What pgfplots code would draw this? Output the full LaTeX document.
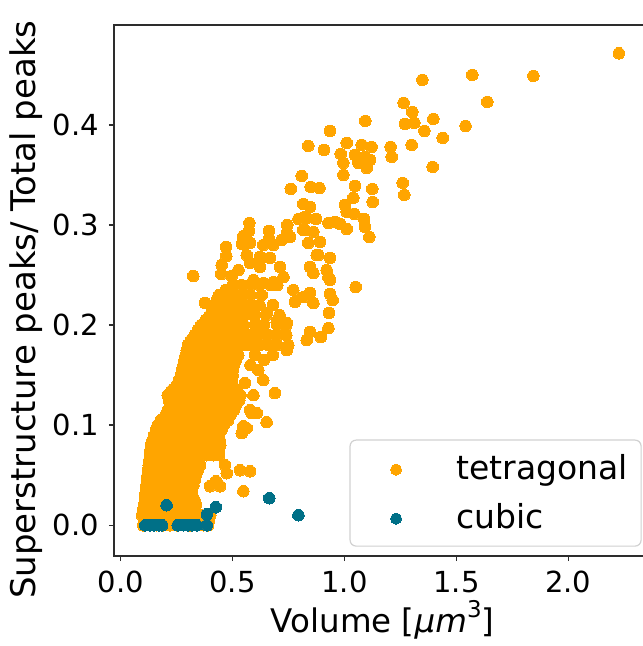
\documentclass[border=0pt]{standalone}
\usepackage{fontspec}
\setmainfont{DejaVu Sans}
\usepackage{pgfplots}
\pgfplotsset{compat=1.18}
\definecolor{torange}{RGB}{255,165,0}
\definecolor{cteal}{RGB}{0,112,135}
\definecolor{spine}{RGB}{45,45,45}
\begin{document}
\begin{tikzpicture}
\begin{axis}[
  name=ax, scale only axis, width=537.1bp, height=530.7bp,
  xmin=-0.030, xmax=2.37, ymin=-0.0307, ymax=0.4995,
  xtick={0,0.5,1,1.5,2}, ytick={0,0.1,0.2,0.3,0.4},
  xtick pos=bottom, ytick pos=left,
  tick align=outside, major tick length=5bp,
  tick style={line width=1.4bp, color=spine},
  axis line style={line width=1.6bp, color=spine},
  xticklabel shift=9.7bp, yticklabel shift=9.7bp,
  xticklabel style={inner sep=0pt, anchor=north},
  yticklabel style={inner sep=0pt, anchor=east},
  tick label style={font=\fontsize{29bp}{29bp}\selectfont},
  /pgf/number format/.cd, fixed, fixed zerofill, precision=1, assume math mode=true, /pgfplots/.cd,
  legend cell align=left,
  legend style={at={(rel axis cs:1,0)}, anchor=south east, xshift=-9.4bp, yshift=9.3bp,
    draw=black!18, line width=1.2bp, rounded corners=6bp, fill=white,
    font=\fontsize{33bp}{33bp}\selectfont, inner xsep=13bp, inner ysep=13bp,
    row sep=18bp, column sep=27.6bp,
    nodes={inner sep=0pt, text height=26bp, text depth=5bp}},
  legend image code/.code={\path[draw=none, fill=none] (0bp,0bp) rectangle (66bp,1bp);
    \draw[#1, mark size=5.5bp] plot coordinates {(33bp,-1bp)};},
]
\addplot[only marks, mark=*, mark size=5.8bp, color=torange, mark options={line width=0pt}] coordinates {
(0.100,0)(0.130,0)(0.160,0)(0.190,0)(0.220,0)(0.250,0)(0.280,0)(0.310,0)(0.340,0)(0.370,0)(0.390,0)
(0.095,0.01)(0.115,0.01)(0.145,0.01)(0.175,0.01)(0.205,0.01)(0.235,0.01)(0.265,0.01)(0.295,0.01)(0.325,0.01)(0.355,0.01)(0.385,0.01)(0.400,0.01)
(0.105,0.02)(0.130,0.02)(0.160,0.02)(0.190,0.02)(0.220,0.02)(0.250,0.02)(0.280,0.02)(0.310,0.02)(0.335,0.02)
(0.110,0.03)(0.145,0.03)(0.175,0.03)(0.205,0.03)(0.235,0.03)(0.265,0.03)(0.295,0.03)(0.320,0.03)
(0.115,0.04)(0.130,0.04)(0.160,0.04)(0.190,0.04)(0.220,0.04)(0.250,0.04)(0.280,0.04)(0.310,0.04)(0.325,0.04)
(0.120,0.05)(0.145,0.05)(0.175,0.05)(0.205,0.05)(0.235,0.05)(0.265,0.05)(0.295,0.05)(0.325,0.05)(0.335,0.05)
(0.125,0.06)(0.130,0.06)(0.160,0.06)(0.190,0.06)(0.220,0.06)(0.250,0.06)(0.280,0.06)(0.310,0.06)(0.340,0.06)(0.355,0.06)
(0.130,0.07)(0.145,0.07)(0.175,0.07)(0.205,0.07)(0.235,0.07)(0.265,0.07)(0.295,0.07)(0.325,0.07)(0.355,0.07)(0.385,0.07)(0.415,0.07)(0.440,0.07)
(0.135,0.08)(0.160,0.08)(0.190,0.08)(0.220,0.08)(0.250,0.08)(0.280,0.08)(0.310,0.08)(0.340,0.08)(0.370,0.08)(0.400,0.08)(0.430,0.08)(0.445,0.08)
(0.150,0.09)(0.175,0.09)(0.205,0.09)(0.235,0.09)(0.265,0.09)(0.295,0.09)(0.325,0.09)(0.355,0.09)(0.385,0.09)(0.415,0.09)(0.440,0.09)
(0.165,0.10)(0.190,0.10)(0.220,0.10)(0.250,0.10)(0.280,0.10)(0.310,0.10)(0.340,0.10)(0.370,0.10)(0.400,0.10)(0.430,0.10)(0.460,0.10)
(0.200,0.11)(0.235,0.11)(0.265,0.11)(0.295,0.11)(0.325,0.11)(0.355,0.11)(0.385,0.11)(0.415,0.11)(0.445,0.11)(0.475,0.11)(0.490,0.11)
(0.220,0.12)(0.250,0.12)(0.280,0.12)(0.310,0.12)(0.340,0.12)(0.370,0.12)(0.400,0.12)(0.430,0.12)(0.460,0.12)(0.490,0.12)(0.515,0.12)
(0.210,0.13)(0.235,0.13)(0.265,0.13)(0.295,0.13)(0.325,0.13)(0.355,0.13)(0.385,0.13)(0.415,0.13)(0.445,0.13)(0.475,0.13)(0.505,0.13)(0.535,0.13)
(0.250,0.14)(0.280,0.14)(0.310,0.14)(0.340,0.14)(0.370,0.14)(0.400,0.14)(0.430,0.14)(0.460,0.14)(0.490,0.14)(0.500,0.14)
(0.270,0.15)(0.295,0.15)(0.325,0.15)(0.355,0.15)(0.385,0.15)(0.415,0.15)(0.445,0.15)(0.475,0.15)(0.500,0.15)
(0.280,0.16)(0.310,0.16)(0.340,0.16)(0.370,0.16)(0.400,0.16)(0.430,0.16)(0.460,0.16)(0.490,0.16)(0.505,0.16)
(0.290,0.17)(0.325,0.17)(0.355,0.17)(0.385,0.17)(0.415,0.17)(0.445,0.17)(0.475,0.17)(0.505,0.17)(0.525,0.17)
(0.300,0.18)(0.340,0.18)(0.370,0.18)(0.400,0.18)(0.430,0.18)(0.460,0.18)(0.490,0.18)(0.520,0.18)(0.550,0.18)(0.580,0.18)(0.620,0.18)(0.660,0.18)(0.700,0.18)
(0.330,0.19)(0.360,0.19)(0.390,0.19)(0.420,0.19)(0.450,0.19)(0.480,0.19)(0.510,0.19)(0.545,0.19)(0.580,0.19)(0.620,0.19)(0.660,0.19)(0.700,0.19)(0.740,0.19)
(0.360,0.20)(0.395,0.20)(0.425,0.20)(0.455,0.20)(0.485,0.20)(0.515,0.20)(0.550,0.20)(0.600,0.20)(0.640,0.20)(0.700,0.20)(0.740,0.20)
(0.400,0.21)(0.430,0.21)(0.460,0.21)(0.490,0.21)(0.520,0.21)(0.555,0.21)(0.600,0.21)(0.650,0.21)(0.710,0.21)
(0.420,0.22)(0.450,0.22)(0.480,0.22)(0.510,0.22)(0.545,0.22)(0.580,0.22)(0.620,0.22)(0.680,0.22)
(0.440,0.23)(0.475,0.23)(0.510,0.23)(0.545,0.23)(0.580,0.23)(0.630,0.23)
(0.500,0.24)(0.540,0.24)(0.580,0.24)(0.620,0.24)(0.670,0.24)(0.700,0.24)
(0.100,0.015)(0.108,0.025)(0.113,0.035)(0.118,0.045)(0.123,0.055)(0.128,0.065)(0.133,0.075)(0.142,0.085)
(0.157,0.095)(0.180,0.105)(0.210,0.115)(0.215,0.125)(0.230,0.135)(0.260,0.145)(0.275,0.155)(0.285,0.165)
(0.295,0.175)(0.315,0.185)(0.345,0.195)(0.380,0.205)(0.410,0.215)(0.430,0.225)(0.470,0.235)
(0.395,0.005)(0.330,0.025)(0.318,0.035)(0.330,0.045)(0.345,0.055)(0.440,0.075)(0.442,0.085)(0.450,0.095)
(0.480,0.105)(0.505,0.115)(0.530,0.125)(0.515,0.135)(0.498,0.145)(0.500,0.155)(0.515,0.165)
(0.324,0.249)(0.449,0.251)(0.451,0.260)(0.496,0.249)(0.526,0.255)(0.472,0.269)(0.471,0.278)(0.563,0.270)
(0.578,0.262)(0.622,0.258)(0.622,0.268)(0.667,0.267)(0.712,0.258)(0.727,0.248)(0.593,0.245)(0.637,0.242)
(0.682,0.243)(0.578,0.282)(0.637,0.280)(0.682,0.280)(0.548,0.289)(0.542,0.281)(0.663,0.294)(0.663,0.286)
(0.719,0.285)(0.757,0.288)(0.744,0.300)(0.743,0.292)(0.575,0.302)(0.573,0.294)(0.760,0.336)(0.794,0.306)
(0.831,0.307)(0.823,0.295)(0.846,0.258)(0.861,0.252)(0.883,0.270)(0.920,0.255)(0.928,0.248)(0.935,0.245)
(0.935,0.267)(0.876,0.270)(0.838,0.282)(0.891,0.283)(0.816,0.295)(0.861,0.293)(0.928,0.302)(0.958,0.303)
(0.980,0.301)(1.010,0.296)(0.816,0.321)(0.846,0.318)(0.823,0.308)(0.873,0.306)(0.809,0.349)(0.849,0.338)
(0.888,0.337)(0.838,0.379)(0.908,0.375)(0.935,0.394)(1.093,0.404)(1.010,0.382)(1.077,0.380)(1.121,0.378)
(0.983,0.371)(1.047,0.370)(1.092,0.368)(1.114,0.365)(0.995,0.362)(1.062,0.362)(1.099,0.357)(0.995,0.350)
(1.206,0.378)(1.211,0.368)(1.300,0.380)(1.394,0.358)(1.260,0.342)(1.267,0.330)(1.047,0.339)(1.124,0.336)
(1.126,0.323)(1.039,0.327)(1.002,0.320)(1.010,0.313)(1.044,0.311)(1.087,0.306)(1.092,0.298)(1.111,0.288)
(1.050,0.238)(1.348,0.445)(1.571,0.450)(1.844,0.449)(1.638,0.423)(1.264,0.422)(1.303,0.413)(1.397,0.406)
(1.270,0.401)(1.312,0.402)(1.541,0.399)(1.357,0.394)(1.439,0.387)(2.226,0.4715)
(0.771,0.235)(0.846,0.232)(0.816,0.228)(0.779,0.223)(0.861,0.222)(0.935,0.231)(0.947,0.225)(0.931,0.212)
(0.928,0.197)(0.846,0.193)(0.831,0.185)(0.894,0.188)(0.749,0.180)(0.697,0.203)(0.742,0.202)(0.652,0.212)
(0.742,0.175)(0.377,0.222)(0.414,0.218)(0.354,0.188)(0.302,0.180)
(0.600,0.170)(0.640,0.165)(0.680,0.170)(0.580,0.160)
(0.533,0.055)(0.578,0.054)(0.548,0.034)(0.474,0.052)(0.466,0.060)(0.399,0.039)(0.426,0.044)(0.444,0.039)
(0.652,0.103)(0.689,0.132)(0.593,0.130)(0.608,0.112)(0.548,0.099)(0.541,0.092)(0.637,0.145)(0.615,0.155)
(0.555,0.142)(0.585,0.112)(0.578,0.115)(0.563,0.097)
};
\addlegendentry{tetragonal}
\addplot[only marks, mark=*, mark size=5.8bp, color=cteal, mark options={line width=0pt}] coordinates {
(0.110,0)(0.130,0)(0.150,0)(0.170,0)(0.185,0)(0.205,0.020)(0.255,0)(0.280,0)(0.300,0)(0.320,0)(0.340,0)
(0.385,0)(0.385,0.011)(0.425,0.018)(0.664,0.027)(0.794,0.010)
};
\addlegendentry{cubic}
\end{axis}
\node[rotate=90, anchor=base, font=\fontsize{34bp}{34bp}\selectfont] at ([xshift=-78bp,yshift=-19bp]ax.west) {Superstructure peaks/ Total peaks};
\node[anchor=base, font=\fontsize{32.5bp}{32.5bp}\selectfont] at ([yshift=-76bp]ax.south) {Volume [{\itshape μm}\raisebox{0.45em}{\fontsize{23bp}{23bp}\selectfont 3}]};
\pgfresetboundingbox
\path[use as bounding box] ([xshift=-114bp,yshift=-90bp]ax.south west) rectangle ([xshift=529bp,yshift=556bp]ax.south west);
\end{tikzpicture}
\end{document}
